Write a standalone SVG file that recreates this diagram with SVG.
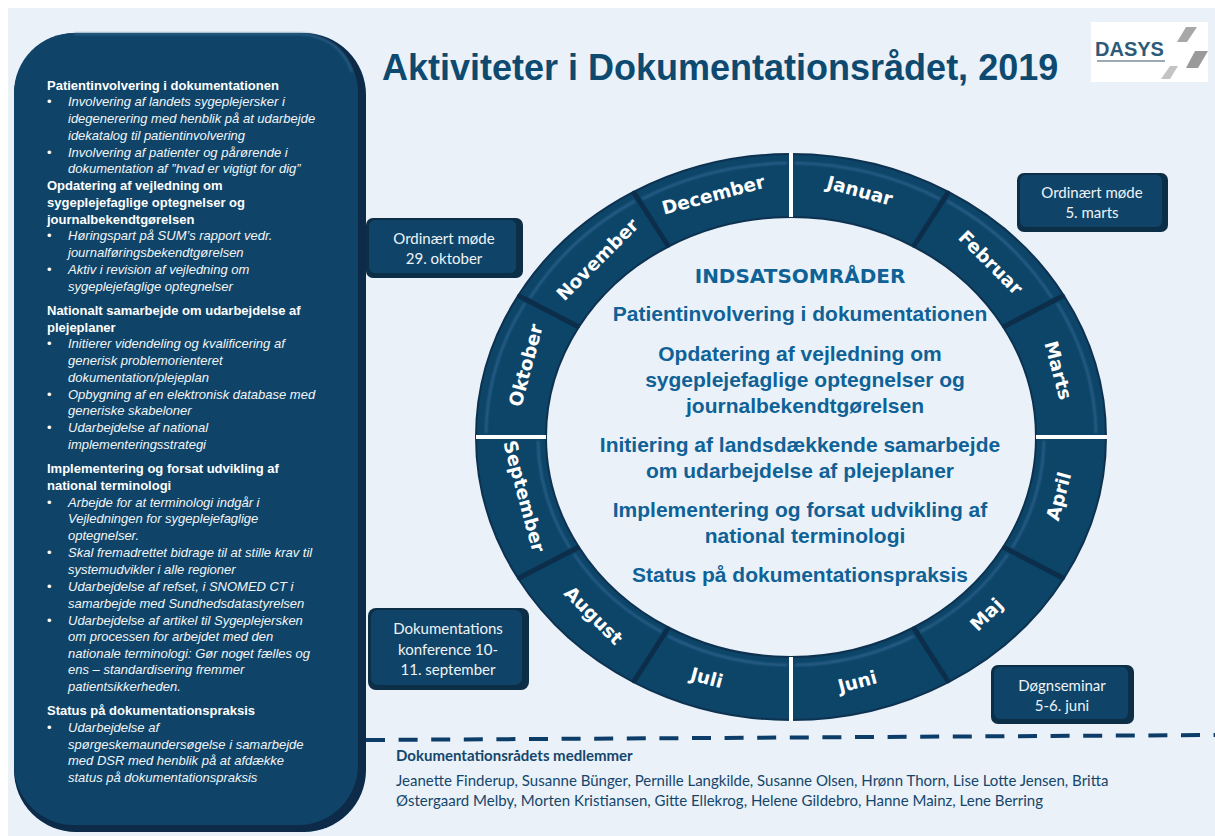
<svg xmlns="http://www.w3.org/2000/svg" width="1215" height="836" viewBox="0 0 1215 836">
<defs>
<filter id="soft" x="-5%" y="-5%" width="110%" height="110%"><feGaussianBlur stdDeviation="0.7"/></filter>
<filter id="softer" x="-10%" y="-10%" width="120%" height="120%"><feGaussianBlur stdDeviation="1"/></filter>
<style>
.seg{fill:#0f4468;stroke:#0b3150;stroke-width:2;filter:url(#soft)}
.hi{fill:none;stroke:#2f6490;stroke-width:2;filter:url(#softer)}
.sep{stroke:#0a2f4c;stroke-width:5;filter:url(#soft)}
.wsep{stroke:#fff;stroke-width:4}
.month{font:bold 18.5px "DejaVu Sans",Verdana,sans-serif;fill:#fff;text-anchor:middle}
.h{font:bold 13px "Liberation Sans",Arial,sans-serif;fill:#fff}
.i{font:italic 13px "Liberation Sans",Arial,sans-serif;fill:#f2f5f8}
.b{font:13px "Liberation Sans",Arial,sans-serif;fill:#fff}
.c{font:bold 21px "Liberation Sans",Arial,sans-serif;fill:#0f6196;text-anchor:middle}
.box{fill:#0a2d47;filter:url(#soft)}
.boxtop{fill:#0f4468}
.bt{font:15px Lato,"Open Sans",sans-serif;fill:#eef3f7;text-anchor:middle}
</style>
</defs>
<rect width="1215" height="836" fill="#fff"/>
<rect x="8" y="8" width="1207" height="828" fill="#eaf1f9"/>

<g id="panel">
<rect x="14" y="33" width="352" height="799" rx="62" fill="#07294a" filter="url(#soft)"/>
<rect x="14" y="33" width="344" height="792" rx="60" fill="#0f4468"/>
<path d="M74 34H300Q340 36 352 72" fill="none" stroke="#2f5f85" stroke-width="2" filter="url(#softer)"/>
<text class="h" x="47" y="90">Patientinvolvering i dokumentationen</text>
<text class="b" x="47" y="106">•</text><text class="i" x="68" y="106">Involvering af landets sygeplejersker i</text>
<text class="i" x="68" y="123">idegenerering med henblik på at udarbejde</text>
<text class="i" x="68" y="140">idekatalog til patientinvolvering</text>
<text class="b" x="47" y="157">•</text><text class="i" x="68" y="157">Involvering af patienter og pårørende i</text>
<text class="i" x="68" y="173">dokumentation af ”hvad er vigtigt for dig”</text>
<text class="h" x="47" y="190">Opdatering af vejledning om</text>
<text class="h" x="47" y="207">sygeplejefaglige optegnelser og</text>
<text class="h" x="47" y="224">journalbekendtgørelsen</text>
<text class="b" x="47" y="240">•</text><text class="i" x="68" y="240">Høringspart på SUM’s rapport vedr.</text>
<text class="i" x="68" y="257">journalføringsbekendtgørelsen</text>
<text class="b" x="47" y="274">•</text><text class="i" x="68" y="274">Aktiv i revision af vejledning om</text>
<text class="i" x="68" y="291">sygeplejefaglige optegnelser</text>
<text class="h" x="47" y="315">Nationalt samarbejde om udarbejdelse af</text>
<text class="h" x="47" y="332">plejeplaner</text>
<text class="b" x="47" y="348">•</text><text class="i" x="68" y="348">Initierer videndeling og kvalificering af</text>
<text class="i" x="68" y="365">generisk problemorienteret</text>
<text class="i" x="68" y="382">dokumentation/plejeplan</text>
<text class="b" x="47" y="399">•</text><text class="i" x="68" y="399">Opbygning af en elektronisk database med</text>
<text class="i" x="68" y="415">generiske skabeloner</text>
<text class="b" x="47" y="432">•</text><text class="i" x="68" y="432">Udarbejdelse af national</text>
<text class="i" x="68" y="449">implementeringsstrategi</text>
<text class="h" x="47" y="473">Implementering og forsat udvikling af</text>
<text class="h" x="47" y="490">national terminologi</text>
<text class="b" x="47" y="507">•</text><text class="i" x="68" y="507">Arbejde for at terminologi indgår i</text>
<text class="i" x="68" y="523">Vejledningen for sygeplejefaglige</text>
<text class="i" x="68" y="540">optegnelser.</text>
<text class="b" x="47" y="557">•</text><text class="i" x="68" y="557">Skal fremadrettet bidrage til at stille krav til</text>
<text class="i" x="68" y="574">systemudvikler i alle regioner</text>
<text class="b" x="47" y="591">•</text><text class="i" x="68" y="591">Udarbejdelse af refset, i SNOMED CT i</text>
<text class="i" x="68" y="608">samarbejde med Sundhedsdatastyrelsen</text>
<text class="b" x="47" y="625">•</text><text class="i" x="68" y="625">Udarbejdelse af artikel til Sygeplejersken</text>
<text class="i" x="68" y="641">om processen for arbejdet med den</text>
<text class="i" x="68" y="658">nationale terminologi:  Gør noget fælles og</text>
<text class="i" x="68" y="674">ens – standardisering fremmer</text>
<text class="i" x="68" y="691">patientsikkerheden.</text>
<text class="h" x="47" y="715">Status på dokumentationspraksis</text>
<text class="b" x="47" y="732">•</text><text class="i" x="68" y="732">Udarbejdelse af</text>
<text class="i" x="68" y="749">spørgeskemaundersøgelse i samarbejde</text>
<text class="i" x="68" y="765">med DSR med henblik på at afdække</text>
<text class="i" x="68" y="782">status på dokumentationspraksis</text>
</g>

<text id="title" x="382" y="80" font-family="Liberation Sans,Arial,sans-serif" font-weight="bold" font-size="36" fill="#0e4a70">Aktiviteter i Dokumentationsrådet, 2019</text>

<g id="logo">
<rect x="1091" y="22" width="117" height="60" fill="#fff"/>
<text x="1095" y="56" font-family="Liberation Sans,Arial,sans-serif" font-weight="bold" font-size="20" fill="#2c5a78">DASYS</text>
<rect x="1097" y="60" width="68" height="2" fill="#9aa9b3"/>
<polygon points="1186,27 1197,27 1187,42 1177,42" fill="#a8a8a8"/>
<polygon points="1195,51 1208,51 1198,68 1186,68" fill="#9a9a9a"/>
<polygon points="1170,66 1178,66 1170,79 1161,79" fill="#c4c4c4"/>
</g>

<g id="ring">
<g id="m-januar"><path class="seg" d="M791 154A315 283 0 0 1 948.5 191.9L913.5 246.5A245 220 0 0 0 791 217Z"/><path class="hi" d="M795 163A305 274 0 0 1 940 199"/><text class="month" transform="translate(858 197) rotate(15)">Januar</text></g>
<g id="m-februar"><path class="seg" d="M948.5 191.9A315 283 0 0 1 1063.8 295.5L1003.2 327A245 220 0 0 0 913.5 246.5Z"/><path class="hi" d="M947 201A305 274 0 0 1 1052 298"/><text class="month" transform="translate(986 267) rotate(45)">Februar</text></g>
<g id="m-marts"><path class="seg" d="M1063.8 295.5A315 283 0 0 1 1106 437L1036 437A245 220 0 0 0 1003.2 327Z"/><path class="hi" d="M1057 303A305 274 0 0 1 1096 433"/><text class="month" transform="translate(1052 372) rotate(75)">Marts</text></g>
<g id="m-april"><path class="seg" d="M1106 437A315 283 0 0 1 1063.8 578.5L1003.2 547A245 220 0 0 0 1036 437Z"/><path class="hi" d="M1044 441A253 228 0 0 1 1012 548"/><text class="month" transform="translate(1065 498) rotate(-75)">April</text></g>
<g id="m-maj"><path class="seg" d="M1063.8 578.5A315 283 0 0 1 948.5 682.1L913.5 627.5A245 220 0 0 0 1003.2 547Z"/><path class="hi" d="M1008 554A253 228 0 0 1 920 632"/><text class="month" transform="translate(991 619) rotate(-45)">Maj</text></g>
<g id="m-juni"><path class="seg" d="M948.5 682.1A315 283 0 0 1 791 720L791 657A245 220 0 0 0 913.5 627.5Z"/><path class="hi" d="M914 636A253 228 0 0 1 795 665"/><text class="month" transform="translate(859 688) rotate(-15)">Juni</text></g>
<g id="m-juli"><path class="seg" d="M791 720A315 283 0 0 1 633.5 682.1L668.5 627.5A245 220 0 0 0 791 657Z"/><path class="hi" d="M787 665A253 228 0 0 1 668 636"/><text class="month" transform="translate(705 684) rotate(15)">Juli</text></g>
<g id="m-august"><path class="seg" d="M633.5 682.1A315 283 0 0 1 518.2 578.5L578.8 547A245 220 0 0 0 668.5 627.5Z"/><path class="hi" d="M662 632A253 228 0 0 1 574 554"/><text class="month" transform="translate(589 620) rotate(45)">August</text></g>
<g id="m-september"><path class="seg" d="M518.2 578.5A315 283 0 0 1 476 437L546 437A245 220 0 0 0 578.8 547Z"/><path class="hi" d="M570 548A253 228 0 0 1 538 441"/><text class="month" transform="translate(518 498) rotate(75)">September</text></g>
<g id="m-oktober"><path class="seg" d="M476 437A315 283 0 0 1 518.2 295.5L578.8 327A245 220 0 0 0 546 437Z"/><path class="hi" d="M486 433A305 274 0 0 1 525 303"/><text class="month" transform="translate(532 367) rotate(-75)">Oktober</text></g>
<g id="m-november"><path class="seg" d="M518.2 295.5A315 283 0 0 1 633.5 191.9L668.5 246.5A245 220 0 0 0 578.8 327Z"/><path class="hi" d="M530 298A305 274 0 0 1 635 201"/><text class="month" transform="translate(602 264) rotate(-45)">November</text></g>
<g id="m-december"><path class="seg" d="M633.5 191.9A315 283 0 0 1 791 154L791 217A245 220 0 0 0 668.5 246.5Z"/><path class="hi" d="M642 199A305 274 0 0 1 787 163"/><text class="month" transform="translate(715 201) rotate(-15)">December</text></g>
</g>

<g id="connectors">
<line class="sep" x1="948.5" y1="191.9" x2="913.5" y2="246.5"/>
<line class="sep" x1="1063.8" y1="295.5" x2="1003.2" y2="327"/>
<line class="sep" x1="1063.8" y1="578.5" x2="1003.2" y2="547"/>
<line class="sep" x1="948.5" y1="682.1" x2="913.5" y2="627.5"/>
<line class="sep" x1="633.5" y1="682.1" x2="668.5" y2="627.5"/>
<line class="sep" x1="518.2" y1="578.5" x2="578.8" y2="547"/>
<line class="sep" x1="518.2" y1="295.5" x2="578.8" y2="327"/>
<line class="sep" x1="633.5" y1="191.9" x2="668.5" y2="246.5"/>
<line class="wsep" x1="791" y1="153" x2="791" y2="217"/>
<line class="wsep" x1="791" y1="657" x2="791" y2="721"/>
<line class="wsep" x1="476" y1="437" x2="546" y2="437"/>
<line class="wsep" x1="1036" y1="437" x2="1107" y2="437"/>
<line x1="366" y1="740" x2="1215" y2="735" stroke="#0c3d68" stroke-width="4" stroke-dasharray="19 13.6"/>
</g>

<g id="center">
<text x="800" y="283" font-family="DejaVu Sans,Verdana,sans-serif" font-weight="bold" font-size="20" fill="#0f6196" text-anchor="middle">INDSATSOMRÅDER</text>
<text class="c" x="800" y="321">Patientinvolvering i dokumentationen</text>
<text class="c" x="800" y="361">Opdatering af vejledning om</text>
<text class="c" x="805" y="387">sygeplejefaglige optegnelser og</text>
<text class="c" x="805" y="413">journalbekendtgørelsen</text>
<text class="c" x="800" y="452">Initiering af landsdækkende samarbejde</text>
<text class="c" x="800" y="478">om udarbejdelse af plejeplaner</text>
<text class="c" x="800" y="517">Implementering og forsat udvikling af</text>
<text class="c" x="805" y="543">national terminologi</text>
<text class="c" x="800" y="582">Status på dokumentationspraksis</text>
</g>

<g id="box-oktober"><rect class="box" x="366" y="218" width="157" height="60" rx="7"/><rect class="boxtop" x="369" y="220" width="147" height="53" rx="6"/><text class="bt" x="444" y="244">Ordinært møde</text><text class="bt" x="444" y="264">29. oktober</text></g>
<g id="box-marts"><rect class="box" x="1017" y="173" width="151" height="59" rx="7"/><rect class="boxtop" x="1020" y="175" width="142" height="52" rx="6"/><text class="bt" x="1092" y="198">Ordinært møde</text><text class="bt" x="1092" y="218">5. marts</text></g>
<g id="box-konference"><rect class="box" x="368" y="608" width="161" height="82" rx="8"/><rect class="boxtop" x="371" y="610" width="151" height="75" rx="7"/><text class="bt" x="448" y="634">Dokumentations</text><text class="bt" x="448" y="655">konference   10-</text><text class="bt" x="448" y="675">11. september</text></g>
<g id="box-seminar"><rect class="box" x="991" y="665" width="143" height="59" rx="7"/><rect class="boxtop" x="994" y="667" width="134" height="52" rx="6"/><text class="bt" x="1062" y="691">Døgnseminar</text><text class="bt" x="1062" y="711">5-6. juni</text></g>

<g id="members">
<text x="396" y="761" font-family="Lato,Open Sans,sans-serif" font-weight="bold" font-size="15" fill="#14466b">Dokumentationsrådets medlemmer</text>
<text x="396" y="786" font-family="Lato,Open Sans,sans-serif" font-size="15" fill="#14466b">Jeanette Finderup, Susanne Bünger, Pernille Langkilde, Susanne Olsen, Hrønn Thorn, Lise Lotte Jensen, Britta</text>
<text x="396" y="806" font-family="Lato,Open Sans,sans-serif" font-size="15" fill="#14466b">Østergaard Melby, Morten Kristiansen, Gitte Ellekrog, Helene Gildebro, Hanne Mainz, Lene Berring</text>
</g>
</svg>
